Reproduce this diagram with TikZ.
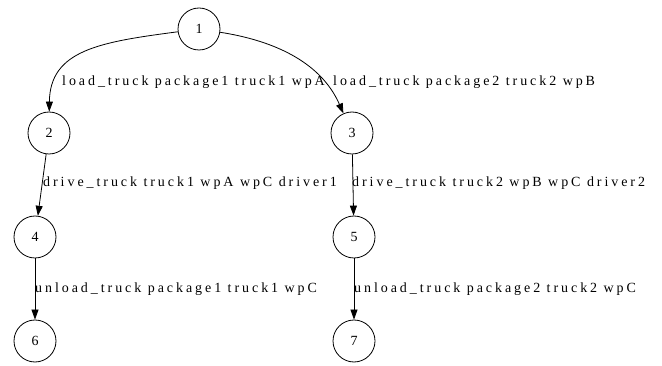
\documentclass[tikz,border=0pt]{standalone}
\usepackage{fontspec}
\setmainfont{Liberation Serif}
\newfontfamily\actfont[LetterSpace=21]{Liberation Serif}
\usetikzlibrary{arrows.meta}

\begin{document}
\begin{tikzpicture}[x=1pt,y=-1pt,
  state/.style={draw, circle, line width=0.8pt, minimum size=42pt, inner sep=0pt, font=\fontsize{14}{16}\selectfont},
  edge/.style={line width=0.8pt, -{Triangle[length=10pt,width=7pt]}},
  act/.style={anchor=base west, inner sep=0pt, font=\actfont\fontsize{14}{16}\selectfont}]
\useasboundingbox (0,0) rectangle (662,366);

% states
\node [state] (n1) at (199,29) {1};
\node [state] (n2) at (49,133) {2};
\node [state] (n3) at (352,133) {3};
\node [state] (n4) at (35,237) {4};
\node [state] (n5) at (354,237) {5};
\node [state] (n6) at (35,341) {6};
\node [state] (n7) at (354,341) {7};

% actions
\draw [edge] (n1) .. controls (100,42) and (50,50) .. (n2);
\draw [edge] (n1) .. controls (270,40) and (320,60) .. (n3);
\draw [edge] (n2) -- (n4);
\draw [edge] (n3) -- (n5);
\draw [edge] (n4) -- (n6);
\draw [edge] (n5) -- (n7);

% labels
\node [act] (l12) at (62,85.5) {load\_truck package1 truck1 wpA};
\node [act] (l13) at (333,85.5) {load\_truck package2 truck2 wpB};
\node [act] (l24) at (43,187) {drive\_truck truck1 wpA wpC driver1};
\node [act] (l35) at (352,187) {drive\_truck truck2 wpB wpC driver2};
\node [act] (l46) at (35,293) {unload\_truck package1 truck1 wpC};
\node [act] (l57) at (354,293) {unload\_truck package2 truck2 wpC};

\end{tikzpicture}
\end{document}
